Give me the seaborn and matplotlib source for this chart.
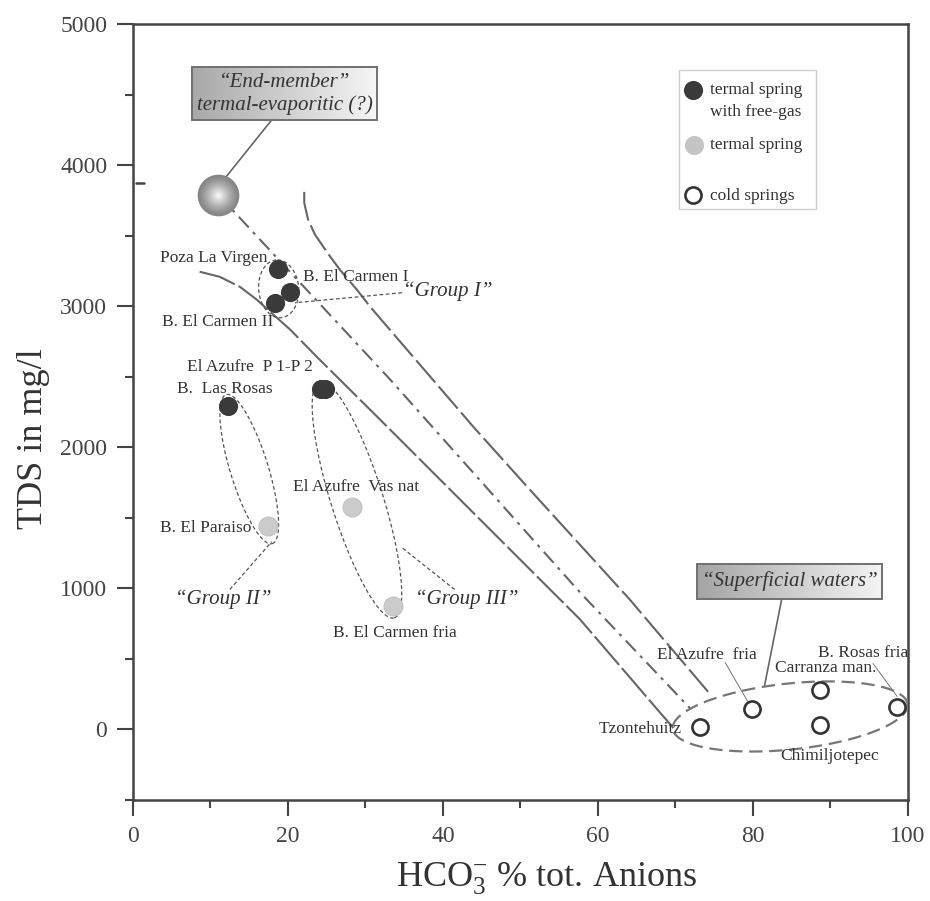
import numpy as np
import matplotlib
matplotlib.use("Agg")
import matplotlib.pyplot as plt
from matplotlib.patches import Rectangle
from matplotlib.colors import LinearSegmentedColormap
import seaborn as sns

# HCO3 (% of total anions) vs TDS (mg/l)
free_gas_x = [18.7, 20.3, 18.3, 24.3, 24.8, 12.3]
free_gas_y = [3262, 3099, 3021, 2411, 2411, 2291]

thermal_x = [17.4, 28.3, 33.5]
thermal_y = [1440, 1574, 872]

cold_x = [73.2, 79.9, 88.6, 88.6, 98.6]
cold_y = [14, 142, 277, 28, 156]

end_member_x = [11.0]
end_member_y = [3790]

# mixing lines
mix_low_x = [8.6, 11.2, 13.8, 16.0, 17.7, 20.3, 23.7, 31.9, 44.8, 57.7, 68.0, 69.9]
mix_low_y = [3244, 3208, 3137, 3045, 2960, 2833, 2642, 2195, 1487, 779, 120, 0]
mix_mid_x = [11.0, 33.2, 57.7, 71.9]
mix_mid_y = [3790, 2479, 970, 149]
mix_high_x = [22.1, 22.1, 22.6, 23.5, 25.0, 26.7, 28.9, 30.6, 43.9, 51.2, 64.1, 74.5]
mix_high_y = [3810, 3732, 3612, 3506, 3385, 3258, 3116, 2996, 2146, 1700, 921, 248]

# sample labels: (text, x, y, ha)
labels = [
    ("Poza La Virgen", 17.4, 3343, "right"),
    ("B. El Carmen I", 21.9, 3208, "left"),
    ("B. El Carmen II", 3.7, 2890, "left"),
    ("El Azufre  P 1-P 2", 7.0, 2571, "left"),
    ("B.  Las Rosas", 5.7, 2415, "left"),
    ("El Azufre  Vas nat", 20.6, 1721, "left"),
    ("B. El Paraiso", 3.5, 1431, "left"),
    ("B. El Carmen fria", 25.8, 687, "left"),
    ("El Azufre  fria", 67.6, 531, "left"),
    ("Carranza man.", 82.8, 439, "left"),
    ("B. Rosas fria", 88.4, 545, "left"),
    ("Tzontehuitz", 70.8, 0, "right"),
    ("Chimiljotepec", 83.5, -191, "left"),
]
group_labels = [
    ("\u201cGroup I\u201d", 34.8, 3102),
    ("\u201cGroup II\u201d", 5.4, 921),
    ("\u201cGroup III\u201d", 36.4, 921),
]

sns.set_style("ticks")
plt.rcParams["font.family"] = ["Liberation Serif", "DejaVu Serif"]
plt.rcParams["mathtext.fontset"] = "custom"
plt.rcParams["mathtext.rm"] = "Liberation Serif"
plt.rcParams["mathtext.it"] = "Liberation Serif:italic"

INK = "#333333"
LINE = "#666666"

fig = plt.figure(figsize=(9.3, 9.01), dpi=100)
ax = fig.add_axes([0.143, 0.1121, 0.8333, 0.8613])
ax.set_xlim(0, 100)
ax.set_ylim(-500, 5000)


def loop(cx, cy, a, b, ang, **kw):
    # ellipse with axes given in pixels, placed at a data point
    t = np.linspace(0, 2 * np.pi, 300)
    c = ax.transData.transform((cx, cy))
    r = np.deg2rad(ang)
    u, v = a * np.cos(t), b * np.sin(t)
    pts = np.column_stack([c[0] + u * np.cos(r) - v * np.sin(r),
                           c[1] + u * np.sin(r) + v * np.cos(r)])
    pts = ax.transData.inverted().transform(pts)
    ax.plot(pts[:, 0], pts[:, 1], **kw)


def grad_box(x0, x1, y0, y1, c0, c1):
    cmap = LinearSegmentedColormap.from_list("g", [c0, c1])
    ax.imshow(np.linspace(0, 1, 200)[None, :], cmap=cmap, extent=(x0, x1, y0, y1),
              aspect="auto", zorder=6)
    ax.add_patch(Rectangle((x0, y0), x1 - x0, y1 - y0, fill=False,
                           ec="#707070", lw=1.4, zorder=7))


# mixing lines
ax.plot(mix_low_x, mix_low_y, color=LINE, lw=1.5, ls=(0, (18, 2)), zorder=2)
ax.plot(mix_mid_x, mix_mid_y, color=LINE, lw=1.5, ls=(0, (7, 3, 1.5, 3)), zorder=2)
ax.plot(mix_high_x, mix_high_y, color=LINE, lw=1.5, ls=(0, (14, 2.5)), zorder=2)

# group outlines
loop(18.8, 3123, 29, 20, 95, color="#555555", lw=0.9, ls=(0, (3, 2)), zorder=3)
loop(15.0, 1845, 78, 19, -72.8, color="#555555", lw=0.9, ls=(0, (3, 2)), zorder=3)
loop(28.9, 1629, 124, 26, -72.5, color="#555555", lw=0.9, ls=(0, (3, 2)), zorder=3)
loop(84.8, 92, 118, 33, 6, color="#777777", lw=1.6, ls=(0, (6, 3)), zorder=3)

# leader lines
ax.plot([34.7, 20.9], [3095, 3024], color="#555555", lw=0.9, ls=(0, (3, 2)))
ax.plot([12.5, 17.9], [992, 1331], color="#555555", lw=0.9, ls=(0, (3, 2)))
ax.plot([41.5, 34.7], [992, 1289], color="#555555", lw=0.9, ls=(0, (3, 2)))
ax.plot([17.9, 11.9], [4320, 3909], color="#666666", lw=1.2)
ax.plot([83.7, 81.5], [921, 312], color="#666666", lw=1.2)
ax.plot([76.4, 79.4], [475, 191], color="#777777", lw=0.7)
ax.plot([95.5, 98.6], [467, 234], color="#777777", lw=0.7)

# samples
sns.scatterplot(x=free_gas_x, y=free_gas_y, s=190, color="#3a3a3a", edgecolor="#3a3a3a",
                linewidth=0, ax=ax, zorder=5)
sns.scatterplot(x=thermal_x, y=thermal_y, s=190, color="#cbcbcb", edgecolor="#bdbdbd",
                linewidth=0.6, ax=ax, zorder=5)
sns.scatterplot(x=cold_x, y=cold_y, s=135, color="white", edgecolor="#333333",
                linewidth=1.9, ax=ax, zorder=5)

# shaded end-member sphere
for i, d in enumerate(np.linspace(30, 2, 28)):
    g = 0.52 + 0.44 * (i / 27) ** 1.3
    ax.scatter(end_member_x, end_member_y, s=d ** 2, color=(g, g, g), linewidth=0, zorder=5)

# boxes
grad_box(7.6, 31.5, 4320, 4695, "#a8a8a8", "#f6f6f6")
ax.text(19.55, 4585, "\u201cEnd-member\u201d", ha="center", va="center", fontsize=15,
        style="italic", color=INK, zorder=8)
ax.text(19.55, 4425, "termal-evaporitic (?)", ha="center", va="center", fontsize=15,
        style="italic", color=INK, zorder=8)
grad_box(72.8, 96.6, 928, 1176, "#a4a4a4", "#f4f4f4")
ax.text(84.7, 1052, "\u201cSuperficial waters\u201d", ha="center", va="center", fontsize=15,
        style="italic", color=INK, zorder=8)

for txt, x, y, ha in labels:
    ax.text(x, y, txt, ha=ha, va="center", fontsize=12.5, color=INK, zorder=6)
for txt, x, y in group_labels:
    ax.text(x, y, txt, ha="left", va="center", fontsize=15, style="italic", color=INK, zorder=6)

# small stray mark near the axis
ax.plot([0.4, 1.4], [3874, 3874], color="#444444", lw=1.8)

# legend
ax.add_patch(Rectangle((0.7045, 0.7613), 0.1768, 0.1794, transform=ax.transAxes,
                       fill=False, ec="#cccccc", lw=1))
ax.scatter([0.7226], [0.9149], s=190, color="#3a3a3a", linewidth=0, transform=ax.transAxes)
ax.scatter([0.7239], [0.8441], s=190, color="#c4c4c4", linewidth=0, transform=ax.transAxes)
ax.scatter([0.7226], [0.7796], s=135, color="white", edgecolor="#333333", linewidth=1.9,
           transform=ax.transAxes)
for txt, y in [("termal spring", 0.9149), ("with free-gas", 0.8866),
               ("termal spring", 0.8441), ("cold springs", 0.7784)]:
    ax.text(0.7445, y, txt, transform=ax.transAxes, ha="left", va="center",
            fontsize=12.5, color=INK)

ax.set_xlim(0, 100)
ax.set_ylim(-500, 5000)
ax.set_xticks([0, 20, 40, 60, 80, 100])
ax.set_xticks([10, 30, 50, 70, 90], minor=True)
ax.set_yticks([0, 1000, 2000, 3000, 4000, 5000])
ax.set_yticks([-500, 500, 1500, 2500, 3500, 4500], minor=True)
ax.tick_params(which="major", length=11.5, width=1.5, color="#444444", labelsize=17,
               labelcolor="#444444", pad=7)
ax.tick_params(which="minor", length=5.8, width=1.5, color="#444444")
for s in ax.spines.values():
    s.set_linewidth(1.8)
    s.set_color("#444444")

ax.set_xlabel(r"HCO$_3^{-}$ % tot. Anions", fontsize=26, color="#333333")
ax.xaxis.set_label_coords(0.533, -0.078)
ax.set_ylabel("TDS in mg/l", fontsize=26, color="#333333")
ax.yaxis.set_label_coords(-0.107, 0.466)

fig.savefig("out.png", dpi=100)
